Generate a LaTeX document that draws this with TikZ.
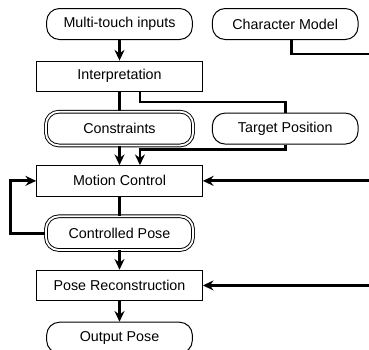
\documentclass[tikz,border=0pt]{standalone}
\usepackage{fontspec}
\setmainfont{Liberation Sans}
\usetikzlibrary{arrows.meta,calc}

\begin{document}
\begin{tikzpicture} [
			inbox/.style={draw,rounded corners=9pt,line width=0.7pt,minimum width=102pt,minimum height=21.7pt},
			dblbox/.style={inbox,double,double distance=1.3pt,line width=0.65pt,minimum width=103pt,minimum height=23.6pt},
			procbox/.style={draw,line width=0.7pt,minimum width=116pt,minimum height=21.3pt},
			wire/.style={line width=2pt},
			>={Stealth[length=7.5pt,width=7pt,inset=2.5pt]},node distance=36.6pt,font=\fontsize{10}{12}\selectfont]
			\useasboundingbox (-83.65pt,16.8pt) rectangle (174.65pt,-227.5pt);
			\coordinate (rim) at (174.65pt,0);
			\node[inbox] (touch) {Multi-touch inputs};
			\node[inbox] (chara) [right of=touch,node distance=116pt] {Character Model};
			\node[procbox] (interp) [below of=touch] {Interpretation};
			\node[dblbox] (constr) [below of=interp] {Constraints};
			\node[inbox] (target) [right of=constr,node distance=116pt] {Target Position};
			\node[procbox] (motion) [below of=constr] {Motion Control};
			\node[dblbox] (cpose) [below of=motion] {Controlled Pose};
			\node[procbox] (recon) [below of=cpose] {Pose Reconstruction};
			\node[inbox] (outpose) [below of=recon] {Output Pose};

			\draw[wire,->] (touch) -- (interp);
			\draw[wire] (interp) -- (constr);
			\draw[wire] ($(interp.south)+(14.3pt,0)$) -- ++(0,-7pt) -| (target.north);
			\draw[wire,->] (constr) -- (motion);
			\draw[wire,->] (target.south) -- ++(0,-3.5pt) -| ($(motion.north)+(14.3pt,0)$);
			\draw[wire] ($(chara.south)+(4.5pt,0)$) |- ($(rim |- chara.south)+(0,-9.8pt)$);
			\draw[wire,->] (rim |- motion) -- (motion);
			\draw[wire] (motion) -- (cpose);
			\draw[wire,->] (cpose.west) -- ++(-24.5pt,0) |- (motion.west);
			\draw[wire,->] (cpose) -- (recon);
			\draw[wire,->] (rim |- recon) -- (recon);
			\draw[wire,->] (recon) -- (outpose);
		\end{tikzpicture}
\end{document}
